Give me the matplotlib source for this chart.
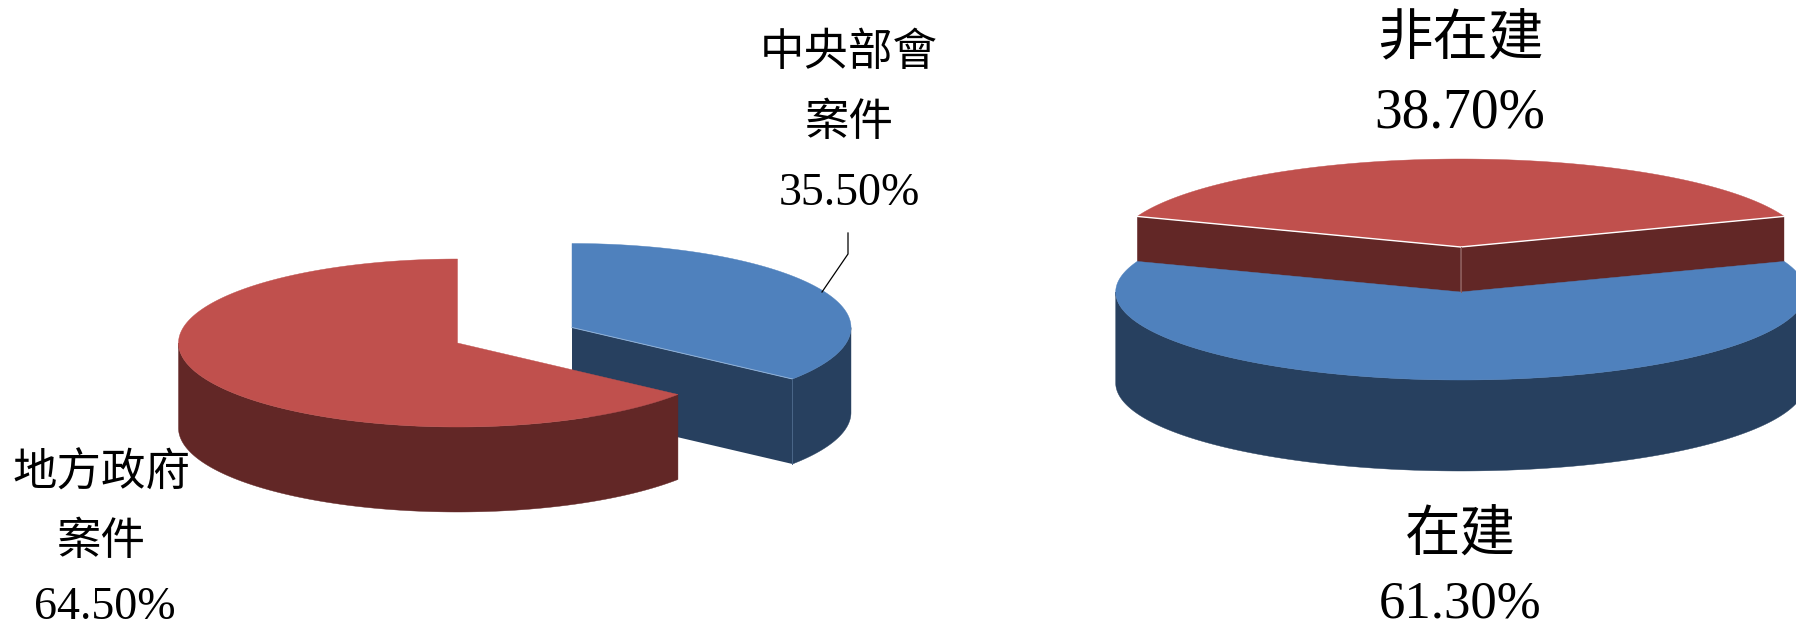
import numpy as np
import matplotlib
matplotlib.use('Agg')
import matplotlib.pyplot as plt

# 左: 案件來源 / 右: 在建比例
left_names = [['中央部會', '案件'], ['地方政府', '案件']]
left_values = [35.5, 64.5]
right_names = [['非在建'], ['在建']]
right_values = [38.7, 61.3]

BLUE, BLUE_DARK = '#4F81BD', '#27405F'
RED, RED_DARK = '#C0504D', '#622726'
FONT = ['Liberation Serif', 'Noto Sans CJK TC']


def arc(cx, cy, rx, ry, a0, a1):
    # 12시 방향에서 시계방향 각도
    t = np.radians(np.linspace(a0, a1, 200))
    return cx + rx * np.sin(t), cy - ry * np.cos(t)


def wall(ax, cx, cy, rx, ry, depth, a0, a1, color):
    x, y = arc(cx, cy, rx, ry, a0, a1)
    ax.fill(np.r_[x, x[::-1]], np.r_[y, y[::-1] + depth], color=color, lw=0.3)


def face(ax, cx, cy, rx, ry, depth, a, color):
    x, y = arc(cx, cy, rx, ry, a, a)
    ax.fill([cx, x[0], x[0], cx], [cy, y[0], y[0] + depth, cy + depth], color=color, lw=0)


def top(ax, cx, cy, rx, ry, a0, a1, color):
    x, y = arc(cx, cy, rx, ry, a0, a1)
    ax.fill(np.r_[cx, x], np.r_[cy, y], color=color, lw=0.3)


fig = plt.figure(figsize=(17.96, 6.30), dpi=100)
ax = fig.add_axes([0, 0, 1, 1])
ax.set_xlim(0, 1796)
ax.set_ylim(630, 0)
ax.axis('off')

# 왼쪽 파이
a = left_values[0] / 100 * 360
rx, ry, depth = 279, 84, 85
bx, by = 572, 327.5
rcx, rcy = 457.5, 343
face(ax, bx, by, rx, ry, depth, a, BLUE_DARK)
wall(ax, bx, by, rx, ry, depth, 90, a, BLUE_DARK)
top(ax, bx, by, rx, ry, 0, a, BLUE)
tx, ty = arc(bx, by, rx, ry, a, a)
ax.plot([bx, tx[0]], [by, ty[0]], color='#8FB0D6', lw=0.7)
ax.plot([tx[0], tx[0]], [ty[0], ty[0] + depth], color='#4A6688', lw=0.7)
wall(ax, rcx, rcy, rx, ry, depth, a, 270, RED_DARK)
top(ax, rcx, rcy, rx, ry, a, 360, RED)
ax.plot([848, 848, 822], [233, 254, 292], color='black', lw=0.9)

# 오른쪽 파이
a = right_values[0] / 100 * 360 / 2
rx, ry, depth = 345, 88, 91
cx, blue_y, red_y = 1460.7, 292, 247
face(ax, cx, red_y, rx, ry, depth, -a, RED_DARK)
face(ax, cx, red_y, rx, ry, depth, a, RED_DARK)
top(ax, cx, red_y, rx, ry, -a, a, RED)
lx, ly = arc(cx, red_y, rx, ry, -a, -a)
tx, ty = arc(cx, red_y, rx, ry, a, a)
ax.plot([lx[0], cx, tx[0]], [ly[0], red_y, ty[0]], color='white', lw=1.0)
ax.plot([cx, cx], [red_y, blue_y], color='#8C5A58', lw=0.7)
wall(ax, cx, blue_y, rx, ry, depth, 90, 270, BLUE_DARK)
top(ax, cx, blue_y, rx, ry, a, 360 - a, BLUE)

# 라벨
ax.text(849, 53, left_names[0][0], fontsize=32, family=FONT, ha='center', va='center')
ax.text(849, 123, left_names[0][1], fontsize=32, family=FONT, ha='center', va='center')
ax.text(849, 194, f'{left_values[0]:.2f}%', fontsize=33, family=FONT, ha='center', va='center')
ax.text(101, 473, left_names[1][0], fontsize=32, family=FONT, ha='center', va='center')
ax.text(101, 542, left_names[1][1], fontsize=32, family=FONT, ha='center', va='center')
ax.text(105, 608, f'{left_values[1]:.2f}%', fontsize=33, family=FONT, ha='center', va='center')
ax.text(1460, 41, right_names[0][0], fontsize=40, family=FONT, ha='center', va='center')
ax.text(1460, 113, f'{right_values[0]:.2f}%', fontsize=40, family=FONT, ha='center', va='center')
ax.text(1460, 538, right_names[1][0], fontsize=40, family=FONT, ha='center', va='center')
ax.text(1460, 605, f'{right_values[1]:.2f}%', fontsize=38, family=FONT, ha='center', va='center')

plt.savefig('out.png', dpi=100)
